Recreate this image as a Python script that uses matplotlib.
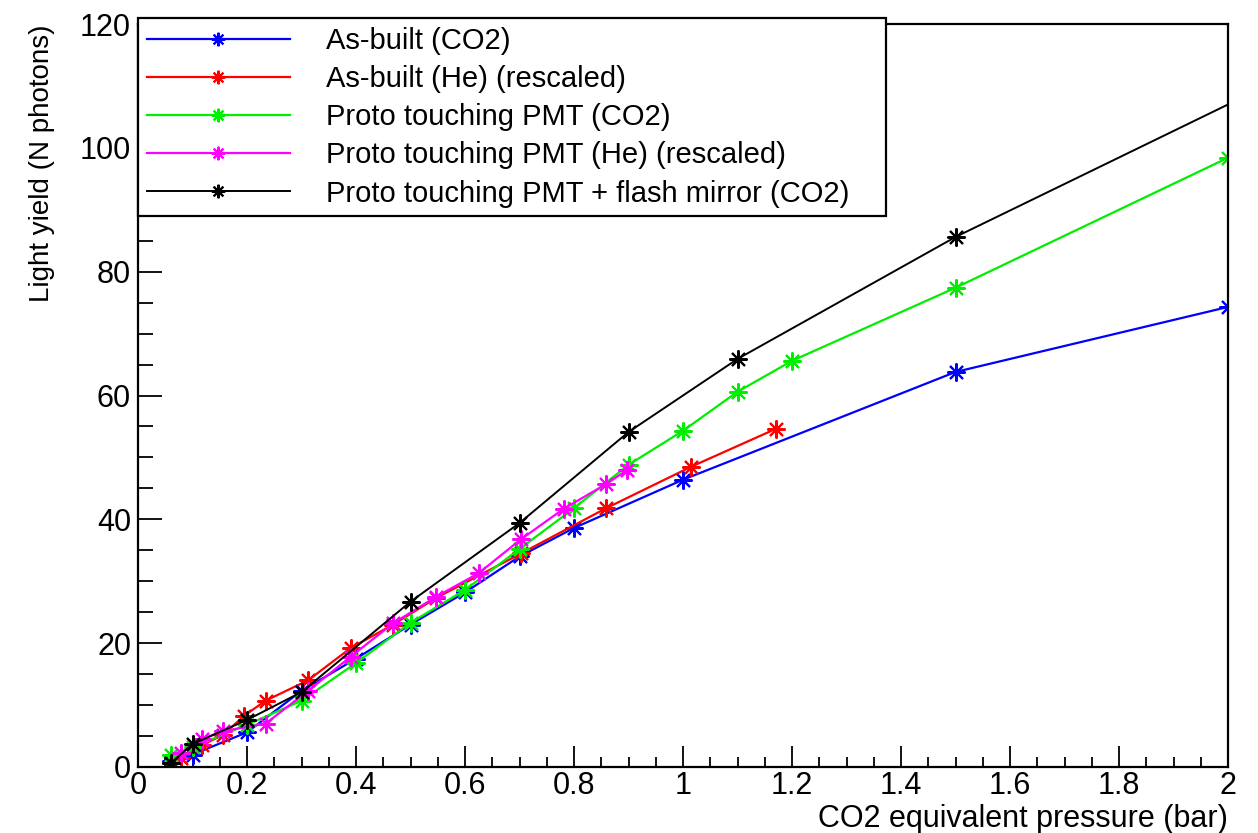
import matplotlib
matplotlib.use("Agg")
import matplotlib.pyplot as plt
from matplotlib.ticker import MultipleLocator

# data
x_asbuilt_co2 = [0.06, 0.1, 0.2, 0.3, 0.4, 0.5, 0.6, 0.7, 0.8, 1.0, 1.5, 2.0]
y_asbuilt_co2 = [1.0, 2.0, 5.6, 12.3, 17.5, 23.0, 28.2, 34.0, 38.6, 46.4, 63.8, 74.3]

x_asbuilt_he = [0.078, 0.117, 0.156, 0.195, 0.234, 0.312, 0.39, 0.468, 0.547,
                0.703, 0.859, 1.015, 1.17]
y_asbuilt_he = [1.5, 3.5, 5.2, 8.3, 10.7, 14.0, 19.2, 23.0, 27.3,
                34.5, 41.8, 48.5, 54.6]

x_proto_co2 = [0.06, 0.1, 0.2, 0.3, 0.4, 0.5, 0.6, 0.7, 0.8, 0.9, 1.0, 1.1, 1.2, 1.5, 2.0]
y_proto_co2 = [1.9, 3.2, 6.8, 10.7, 16.8, 23.3, 28.6, 35.2, 41.8, 48.8, 54.3, 60.6, 65.6, 77.4, 98.4]

x_proto_he = [0.078, 0.117, 0.156, 0.234, 0.312, 0.39, 0.468, 0.547, 0.625,
              0.703, 0.781, 0.859, 0.898]
y_proto_he = [2.2, 4.5, 5.8, 7.0, 12.3, 17.8, 23.2, 27.5, 31.3,
              36.8, 41.7, 45.7, 48.0]

x_mirror_co2 = [0.06, 0.1, 0.2, 0.3, 0.5, 0.7, 0.9, 1.1, 1.5, 2.5]
y_mirror_co2 = [0.6, 3.7, 7.6, 12.1, 26.7, 39.4, 54.1, 65.9, 85.6, 128.4]

labels = ["As-built (CO2)", "As-built (He) (rescaled)", "Proto touching PMT (CO2)",
          "Proto touching PMT (He) (rescaled)",
          "Proto touching PMT + flash mirror (CO2)"]
colors = ["#0000ff", "#ff0000", "#00ee00", "#ff00ff", "#000000"]

font = ["Liberation Sans", "DejaVu Sans"]

fig = plt.figure(figsize=(12.58, 8.33), dpi=100)
ax = fig.add_axes([138 / 1258, 1 - 767 / 833, 1090 / 1258, 743 / 833])

series = [(x_asbuilt_co2, y_asbuilt_co2), (x_asbuilt_he, y_asbuilt_he),
          (x_proto_co2, y_proto_co2), (x_proto_he, y_proto_he),
          (x_mirror_co2, y_mirror_co2)]
for (xs, ys), lab, c in zip(series, labels, colors):
    lw = 1.4 if c == "#000000" else 1.6
    ax.plot(xs, ys, color=c, lw=lw, marker=(8, 2, 0), markersize=13,
            markeredgewidth=1.5, label=lab)

ax.set_xlim(0, 2)
ax.set_ylim(0, 120)
ax.xaxis.set_major_locator(MultipleLocator(0.2))
ax.xaxis.set_minor_locator(MultipleLocator(0.05))
ax.yaxis.set_major_locator(MultipleLocator(20))
ax.yaxis.set_minor_locator(MultipleLocator(5))
ax.tick_params(axis="x", which="major", direction="in", length=15, width=1.3, pad=3)
ax.tick_params(axis="x", which="minor", direction="in", length=7.5, width=1.3)
ax.tick_params(axis="y", which="major", direction="in", length=17, width=1.3, pad=5)
ax.tick_params(axis="y", which="minor", direction="in", length=11, width=1.3)
for s in ax.spines.values():
    s.set_linewidth(1.6)

ax.set_xticklabels([("%g" % v) for v in ax.get_xticks()], family=font, fontsize=22)
ax.set_yticklabels([("%g" % v) for v in ax.get_yticks()], family=font, fontsize=22)

ax.set_xlabel("CO2 equivalent pressure (bar)", family=font, fontsize=22, loc="right",
              labelpad=2)
ax.set_ylabel("Light yield (N photons)", family=font, fontsize=20, loc="top",
              labelpad=18)

leg = ax.legend(loc="upper left", bbox_to_anchor=(138 / 1258, 1 - 18 / 833, 748 / 1258, 0.0),
                bbox_transform=fig.transFigure, mode="expand", fancybox=False,
                edgecolor="black", framealpha=1, borderaxespad=0, borderpad=0.3,
                handlelength=4.9, handletextpad=1.25, labelspacing=0.35,
                prop={"family": font, "size": 21}, markerscale=0.75)
leg.get_frame().set_linewidth(1.6)
leg.set_zorder(5)

fig.savefig("out.png", dpi=100)
